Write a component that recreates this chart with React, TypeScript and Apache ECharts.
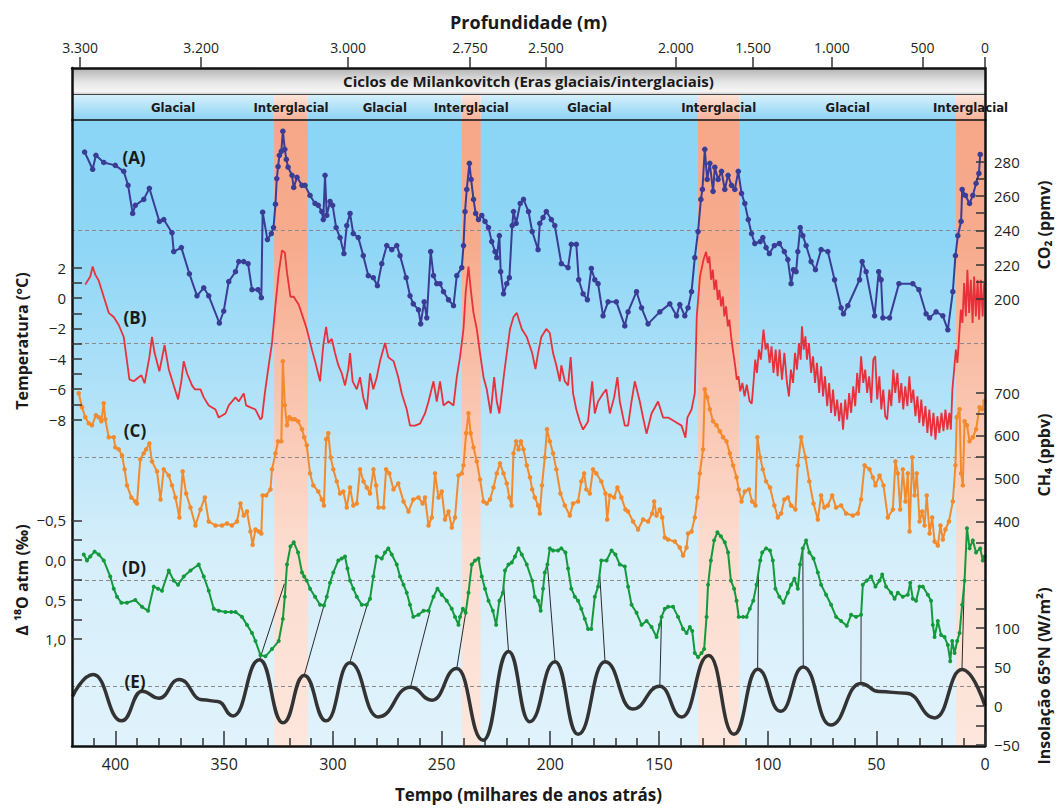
import { useEffect, useRef } from "react";
import * as echarts from "echarts";

const FONT = '"Open Sans", "Noto Sans", sans-serif';
const NARROW = '"Liberation Sans Narrow", "DejaVu Sans Condensed", "Roboto Condensed", "Open Sans", sans-serif';

// x: thousands of years before present
const timeTicks = [0, 50, 100, 150, 200, 250, 300, 350, 400];
const timeMinorTicks = [10, 20, 30, 40, 60, 70, 80, 90, 110, 120, 130, 140, 160, 170, 180, 190, 210, 220, 230, 240, 260, 270, 280, 290, 310, 320, 330, 340, 360, 370, 380, 390, 410];
const depthLabels = ["3.300", "3.200", "3.000", "2.750", "2.500", "2.000", "1.500", "1.000", "500", "0"];
const depthAges = [416.3, 360.6, 293.0, 236.9, 202.0, 142.2, 106.7, 70.4, 28.7, 0];
const interglacials = [[327, 311.5], [240.7, 232], [132, 113], [13.3, 0]];
const glacials = [[420, 327], [311.5, 240.7], [232, 132], [113, 13.3]];

// (A) CO2 ppmv
const co2 = [
  [414.2, 285.8], [410.5, 275.7], [409.0, 283.9], [405.4, 279.7], [400.1, 278.0], [396.2, 274.5], [394.2, 266.3], [392.1, 249.9], [390.9, 254.6], [387.0, 258.1], [384.4, 264.6], [379.8, 245.2], [377.8, 246.3], [374.0, 238.6], [373.2, 227.6], [369.7, 229.9], [366.0, 214.6], [362.5, 201.7], [359.4, 206.4], [357.1, 201.7], [352.2, 185.8], [350.2, 192.8], [347.9, 210.0], [344.8, 215.8], [343.3, 221.7], [341.0, 221.7], [339.0, 220.5], [337.2, 205.3], [334.4, 205.3], [332.9, 200.6], [332.3, 250.6], [330.1, 234.6], [328.3, 238.1], [327.3, 241.6], [326.4, 255.3], [325.8, 270.3], [325.2, 277.3], [324.6, 283.9], [323.7, 286.2], [323.0, 298.0], [322.1, 287.4], [321.4, 281.5], [320.6, 276.9], [318.8, 272.2], [318.0, 265.1], [316.5, 271.0], [314.2, 266.3],
  [312.8, 266.3], [310.5, 260.4], [308.2, 255.7], [306.7, 254.6], [305.1, 251.0], [304.4, 246.3], [303.6, 272.2], [302.8, 248.7], [301.3, 256.9], [300.1, 254.6], [298.5, 241.6], [296.7, 235.8], [294.9, 226.4], [293.6, 242.8], [292.1, 249.9], [290.6, 238.1], [288.3, 235.8], [286.0, 225.2], [283.7, 213.5], [281.4, 212.3], [279.5, 207.6], [277.5, 220.5], [275.2, 231.1], [272.9, 228.7], [270.6, 231.1], [269.1, 225.2], [266.3, 212.3], [264.5, 201.7], [263.0, 197.0], [260.6, 193.5], [259.6, 185.3], [258.0, 198.2], [256.8, 188.8], [255.0, 227.6], [253.7, 213.5], [252.2, 208.8], [250.7, 208.8], [249.1, 204.1], [246.8, 199.4], [244.5, 195.9], [243.0, 213.5], [240.7, 218.2], [239.9, 231.1], [239.2, 251.0], [238.4, 263.9], [237.2, 279.2], [236.4, 269.8], [235.3, 258.1], [234.3, 249.9], [233.0, 246.3], [231.5, 248.7], [230.0, 245.2], [228.4, 241.6], [226.9, 233.4], [225.4, 227.6], [224.6, 224.0], [223.4, 236.9], [222.8, 215.8], [221.5, 202.9], [220.0, 208.8], [218.8, 212.3], [217.5, 242.8], [216.9, 251.0], [215.7, 244.0], [213.8, 255.7], [212.3, 258.1], [210.0, 251.0], [208.3, 239.3],
  [205.6, 228.7], [204.8, 244.0], [203.3, 247.5], [201.8, 251.0], [199.5, 246.3], [197.9, 242.8], [194.9, 220.5], [191.8, 218.2], [190.3, 231.8], [188.0, 231.8], [186.9, 211.1], [184.9, 202.9], [182.9, 199.4], [181.1, 217.7], [179.5, 211.1], [178.0, 208.8], [175.7, 190.0], [173.4, 198.2], [169.6, 198.2], [165.7, 184.1], [164.2, 192.3], [160.3, 204.1], [158.0, 194.7], [155.0, 185.3], [149.6, 192.3], [145.0, 197.0], [141.9, 190.0], [140.4, 196.6], [138.1, 190.0], [136.6, 194.7], [135.0, 204.1], [133.5, 224.0], [132.0, 239.3], [130.7, 258.1], [130.0, 263.9], [128.9, 287.4], [127.8, 269.8], [126.6, 279.2], [125.1, 262.8], [124.3, 276.9], [122.8, 269.8], [121.2, 274.5], [119.7, 263.9], [118.2, 272.2], [116.6, 266.3], [115.1, 263.9], [113.5, 274.5], [112.0, 261.6], [110.5, 255.7], [108.9, 246.3], [107.4, 238.1], [105.9, 232.3], [103.4, 233.4],
  [102.2, 235.8], [100.7, 229.9], [99.2, 226.4], [96.9, 231.1], [94.6, 232.3], [92.3, 227.6], [90.7, 222.9], [89.2, 208.8], [88.1, 217.0], [86.9, 215.8], [86.1, 227.6], [85.0, 241.6], [83.8, 236.9], [82.3, 231.1], [80.0, 221.7], [78.0, 217.0], [75.4, 228.7], [72.3, 227.6], [69.2, 211.1], [66.2, 194.7], [65.1, 191.2], [63.1, 195.9], [57.7, 211.1], [56.5, 221.7], [54.7, 215.8], [50.8, 190.0], [48.9, 215.8], [47.8, 211.1], [47.0, 188.8], [43.9, 188.8], [39.6, 208.8], [33.2, 208.8], [30.4, 205.3], [27.1, 191.2], [25.5, 188.8], [22.5, 192.3], [19.4, 190.0], [17.1, 181.8], [14.8, 204.1], [13.6, 225.2], [12.5, 236.9], [11.0, 245.2], [10.5, 263.9], [9.0, 260.4], [7.1, 255.7], [5.6, 260.4], [4.1, 267.5], [2.8, 273.3], [2.2, 284.4],
];

// (B) Temperature °C
const temperature = [
  [413.9, 0.89], [411.6, 1.42], [410.5, 2.08], [409.3, 1.55], [407.7, 1.15], [405.4, 0.09], [403.1, -0.97], [400.8, -1.24], [398.5, -1.77], [396.2, -2.56], [394.7, -4.15], [393.6, -5.35], [391.6, -5.48], [389.3, -5.21], [388.1, -5.08], [386.6, -5.61], [384.4, -3.89], [383.2, -2.56], [382.0, -3.62], [379.8, -4.82], [377.4, -3.09], [375.5, -4.68], [373.2, -5.75], [371.2, -6.67], [369.7, -5.48], [368.6, -4.15], [367.1, -4.95], [364.8, -5.75], [363.5, -6.01], [360.9, -6.01], [359.4, -6.54], [357.1, -7.07], [354.0, -7.34], [352.5, -7.87], [349.4, -7.6], [347.9, -7.07], [344.8, -6.54], [343.3, -6.81], [341.0, -6.28], [339.9, -7.07], [337.9, -7.2], [335.6, -7.34], [333.3, -8.0], [332.6, -7.87], [331.3, -6.28], [329.5, -4.42], [328.0, -2.96], [326.4, -0.44], [324.9, 1.68], [323.4, 3.14], [322.1, 3.01], [321.1, 1.68], [319.5, 0.09], [318.0, 0.09], [315.7, -0.44], [313.2, -1.5],
  [312.0, -2.03], [309.7, -3.36], [308.2, -4.15], [305.9, -5.48], [304.4, -3.09], [303.1, -1.9], [302.1, -2.96], [300.5, -2.69], [299.0, -3.62], [297.5, -4.42], [295.9, -4.95], [294.4, -5.75], [292.9, -4.68], [292.1, -3.62], [290.9, -5.48], [289.0, -6.01], [287.5, -5.21], [286.0, -6.54], [284.4, -7.34], [282.9, -4.95], [281.4, -6.01], [279.8, -5.21], [278.3, -4.15], [276.0, -2.96], [274.5, -3.89], [272.1, -4.15], [269.9, -5.21], [268.3, -6.28], [266.0, -7.34], [264.5, -8.4], [262.2, -8.4], [259.9, -8.27], [257.6, -7.6], [256.0, -6.81], [253.7, -5.48], [252.2, -6.81], [250.7, -5.48], [249.1, -7.07], [246.8, -6.81], [244.5, -7.07], [243.0, -5.21], [241.5, -3.89], [239.9, -2.03], [238.9, 0.36], [237.6, 2.08], [236.6, 0.62], [235.3, -0.97], [233.8, -2.03], [232.3, -3.62], [230.7, -5.21], [229.2, -6.01], [227.4, -7.6], [225.8, -5.21], [224.6, -6.81], [223.4, -7.6], [222.3, -6.28], [221.2, -4.95], [220.0, -3.62], [218.5, -2.03], [216.9, -1.24], [215.4, -0.97], [213.1, -2.03], [210.8, -2.56], [208.3, -3.62],
  [206.8, -4.68], [205.6, -3.62], [204.1, -2.56], [201.8, -2.03], [200.2, -2.3], [198.7, -3.62], [197.2, -4.42], [195.6, -5.48], [194.9, -4.42], [193.3, -5.48], [191.8, -5.75], [190.6, -3.89], [189.5, -6.28], [188.0, -7.34], [186.4, -8.13], [184.9, -8.66], [182.6, -8.13], [180.7, -5.48], [179.5, -7.6], [178.0, -6.81], [175.7, -6.28], [174.2, -6.01], [172.6, -7.6], [170.6, -6.54], [169.1, -5.21], [168.0, -6.81], [165.7, -8.4], [164.2, -8.4], [162.6, -6.81], [161.1, -5.48], [158.8, -6.81], [157.3, -7.87], [155.7, -8.93], [153.4, -7.6], [150.4, -6.81], [148.1, -7.87], [145.8, -7.87], [142.7, -8.13], [139.6, -8.4], [137.8, -9.19], [136.9, -7.87], [135.0, -7.34], [133.5, -6.28],
  [132.6, -1.2], [131.1, 1.43], [129.5, 2.53], [128.3, 3.05], [127.5, 2.31], [126.8, 2.75], [126.0, 1.21], [125.2, 1.87], [124.5, 0.55], [123.7, 1.21], [122.9, -0.11], [122.2, 0.55], [121.4, -0.54], [120.6, 0.11], [119.9, -1.2], [119.1, -0.54], [118.3, -1.86], [117.6, -1.42], [116.8, -2.52], [116.0, -3.39], [114.9, -4.49], [114.2, -5.37],
  [113.4, -5.15], [112.6, -6.14], [111.6, -5.59], [110.6, -6.47], [109.6, -5.7], [108.3, -6.79], [107.3, -6.95], [106.5, -5.59], [105.7, -4.05], [104.9, -4.93], [104.0, -3.39], [103.1, -4.05], [101.9, -2.08], [100.9, -3.39], [100.0, -2.96], [99.1, -4.27], [98.2, -3.18], [97.3, -4.93], [96.3, -3.39], [95.4, -5.15], [94.5, -3.39], [93.4, -5.37], [92.3, -3.61], [91.1, -5.59], [90.2, -6.47], [89.3, -4.71], [88.3, -5.59], [87.4, -3.61], [86.5, -4.71], [85.6, -2.96], [84.8, -4.05], [84.2, -1.86], [83.4, -3.39], [82.6, -2.52], [81.9, -4.05], [81.0, -2.96], [80.0, -4.93], [79.1, -3.83], [78.2, -5.59], [77.3, -4.27], [76.3, -6.25], [75.4, -4.49], [74.5, -6.47], [73.6, -5.15], [72.6, -7.12], [71.7, -5.59], [70.8, -7.56], [69.9, -6.03], [69.0, -7.78], [68.0, -6.68], [67.1, -8.11], [66.2, -6.9], [65.3, -8.66], [64.3, -6.68], [63.4, -8.0], [62.5, -6.25], [61.6, -7.56], [60.6, -5.81], [59.7, -7.12], [58.8, -4.93], [57.9, -6.25], [57.0, -3.83], [56.0, -5.59], [55.1, -4.71], [54.2, -6.25], [53.3, -5.15], [52.3, -6.9], [51.4, -4.05], [50.5, -3.83], [49.6, -6.68], [48.6, -5.15], [47.7, -7.34], [46.8, -6.03], [45.9, -7.78], [45.0, -8.0], [44.0, -6.03], [43.1, -7.12], [42.2, -4.71], [41.3, -6.25], [40.3, -4.93], [39.4, -6.9], [38.5, -5.59], [37.6, -7.34], [36.7, -5.81], [35.7, -7.12], [34.8, -5.15], [33.9, -6.9], [33.0, -6.03], [32.0, -7.78], [31.1, -6.47], [30.2, -8.22], [29.3, -6.68], [28.4, -8.44], [27.4, -7.12], [26.5, -8.88], [25.6, -7.34], [24.7, -9.1], [23.7, -7.56], [22.8, -9.32], [21.9, -7.78], [21.0, -8.88], [20.0, -7.56], [19.1, -8.77], [18.2, -7.34], [17.3, -8.66], [16.4, -7.56], [15.7, -8.66], [15.0, -6.03], [14.2, -4.71], [13.4, -3.39], [12.7, -4.27], [11.9, -2.52], [11.1, -0.76], [10.4, -1.64], [9.6, 0.99], [8.8, -1.2], [8.1, 1.87], [7.3, -0.98], [6.5, 1.21], [5.7, -1.64], [5.0, 1.43], [4.2, -1.2], [3.4, 1.21], [2.7, -1.42], [1.9, 1.21], [1.1, -1.2], [0.4, 0.99],
];

// (C) CH4 ppbv
const methane = [
  [416.9, 698.5], [415.4, 665.8], [413.9, 642.4], [412.3, 628.4], [410.8, 623.8], [409.0, 647.1], [407.7, 642.4], [406.5, 633.1], [405.4, 675.1], [404.7, 637.8], [403.1, 595.8], [400.8, 595.8], [400.1, 572.4], [398.5, 567.7], [397.0, 553.7], [395.8, 521.1], [394.7, 483.7], [392.7, 455.7], [390.9, 446.4], [390.1, 441.7], [388.6, 544.4], [387.0, 558.4], [385.9, 567.7], [384.4, 581.7], [383.2, 539.7], [380.9, 516.4], [379.3, 451.0], [377.8, 521.1], [375.5, 507.0], [374.0, 483.7], [372.4, 455.7], [370.6, 409.0], [369.1, 516.4], [367.5, 465.0], [365.5, 432.4], [363.2, 390.3], [360.9, 427.7], [358.9, 455.7], [357.1, 399.7], [354.0, 390.3], [351.0, 390.3], [348.7, 395.0], [346.4, 390.3], [344.1, 399.7], [342.5, 441.7], [341.0, 413.7], [339.5, 423.0], [337.9, 376.3], [336.9, 345.5], [335.6, 381.0], [334.1, 376.3], [332.9, 371.7], [332.3, 460.4], [330.7, 460.4], [328.7, 474.4], [328.0, 521.1], [326.4, 558.4], [325.2, 586.4], [323.7, 586.4], [323.0, 773.0], [322.1, 670.4], [321.1, 623.8], [320.0, 642.4], [318.8, 637.8], [317.5, 637.8], [316.0, 633.1], [314.2, 614.4], [313.2, 595.8],
  [312.0, 577.1], [310.5, 511.7], [309.0, 483.7], [306.7, 469.7], [305.1, 451.0], [304.1, 437.0], [303.1, 591.1], [302.1, 605.1], [301.0, 549.1], [299.8, 521.1], [298.2, 493.0], [296.7, 465.0], [295.2, 469.7], [293.6, 432.4], [292.1, 479.0], [290.6, 437.0], [289.0, 441.7], [287.5, 521.1], [285.9, 493.0], [284.4, 479.0], [282.9, 465.0], [281.3, 521.1], [280.1, 483.7], [279.0, 432.4], [276.7, 432.4], [275.5, 521.1], [274.0, 511.7], [272.1, 474.4], [269.9, 488.4], [267.5, 446.4], [265.2, 423.0], [263.0, 451.0], [260.6, 455.7], [258.7, 441.7], [257.6, 455.7], [256.0, 390.3], [254.5, 409.0], [253.0, 511.7], [251.4, 455.7], [249.9, 469.7], [248.4, 404.3], [246.8, 423.0], [245.3, 385.7], [243.8, 409.0], [242.2, 507.0], [240.7, 511.7], [239.9, 530.4], [238.7, 605.1], [237.6, 651.8], [236.6, 605.1], [235.3, 572.4], [233.8, 539.7], [232.3, 497.7], [230.7, 446.4], [229.2, 441.7], [227.7, 451.0], [226.1, 479.0], [224.6, 511.7], [223.1, 535.1], [221.5, 511.7], [220.0, 488.4], [218.8, 455.7], [217.8, 437.0], [216.9, 558.4], [215.7, 586.4], [214.6, 567.7], [213.5, 586.4], [212.3, 567.7], [210.8, 530.4], [209.3, 502.4], [208.3, 474.4],
  [207.1, 455.7], [205.6, 437.0], [204.8, 418.3], [203.8, 483.7], [202.5, 549.1], [201.5, 614.4], [200.2, 586.4], [198.7, 558.4], [197.2, 521.1], [195.3, 465.0], [193.3, 437.0], [191.0, 413.7], [189.5, 441.7], [187.2, 446.4], [185.7, 493.0], [184.4, 511.7], [183.4, 474.4], [181.8, 465.0], [180.3, 521.1], [178.8, 511.7], [176.5, 493.0], [174.6, 465.0], [173.8, 404.3], [172.6, 460.4], [170.6, 455.7], [169.1, 479.0], [167.3, 455.7], [165.4, 427.7], [164.2, 423.0], [161.9, 399.7], [159.6, 381.0], [157.3, 404.3], [155.0, 399.7], [153.1, 418.3], [152.2, 446.4], [151.1, 413.7], [149.6, 427.7], [148.5, 409.0], [147.3, 362.3], [145.8, 357.6], [142.7, 353.0], [140.4, 339.0], [138.9, 320.3], [137.3, 339.0], [136.6, 371.7], [135.0, 376.3], [133.5, 409.0], [132.3, 455.7], [131.2, 511.7], [129.7, 567.7], [128.9, 707.8], [127.8, 689.1], [126.6, 661.1], [125.1, 633.1], [123.5, 623.8], [122.0, 609.8], [120.5, 595.8], [118.9, 586.4], [117.4, 558.4], [115.9, 530.4], [114.3, 502.4], [113.3, 474.4], [112.0, 446.4], [110.5, 469.7], [108.6, 474.4], [107.1, 446.4], [105.6, 437.0], [104.7, 595.8], [103.4, 549.1],
  [102.2, 521.1], [100.7, 493.0], [98.9, 479.0], [96.9, 437.0], [95.3, 409.0], [93.8, 418.3], [92.3, 451.0], [90.7, 455.7], [89.2, 437.0], [87.2, 427.7], [86.1, 530.4], [84.6, 595.8], [82.6, 549.1], [80.8, 493.0], [78.9, 441.7], [76.9, 404.3], [75.4, 460.4], [73.9, 432.4], [72.3, 437.0], [70.3, 460.4], [68.5, 432.4], [66.2, 437.0], [63.9, 418.3], [60.8, 413.7], [58.5, 418.3], [57.0, 451.0], [55.4, 530.4], [53.1, 521.1], [51.6, 502.4], [50.4, 483.7], [48.5, 507.0], [46.7, 483.7], [44.7, 409.0], [42.4, 427.7], [41.2, 539.7], [40.1, 511.7], [39.0, 427.7], [37.8, 521.1], [36.6, 446.4], [35.5, 511.7], [34.7, 376.3], [33.5, 549.1], [32.4, 460.4], [31.4, 511.7], [30.1, 399.7], [28.9, 423.0], [27.8, 390.3], [26.8, 460.4], [25.5, 371.7], [24.3, 409.0], [23.2, 353.0], [21.7, 343.7], [20.5, 390.3], [19.4, 357.6], [18.2, 381.0], [16.6, 399.7], [14.8, 446.4], [13.6, 530.4], [13.0, 642.4], [11.7, 661.1], [11.0, 511.7], [10.2, 483.7], [9.4, 633.1], [8.3, 623.8], [7.1, 586.4], [5.6, 595.8], [4.1, 614.4], [2.5, 665.8], [1.3, 661.1], [0.3, 679.8],
];

// (D) delta 18O atm (per mil)
const d18o = [
  [414.6, -0.07], [413.1, 0.006], [411.6, -0.045], [409.6, -0.106], [407.7, -0.07], [405.4, 0.006], [402.4, 0.209], [400.8, 0.362], [399.3, 0.463], [397.3, 0.54], [394.7, 0.54], [390.9, 0.504], [387.8, 0.591], [385.0, 0.641], [382.4, 0.336], [380.4, 0.362], [378.6, 0.387], [375.5, 0.133], [373.2, 0.26], [371.2, 0.311], [368.6, 0.209], [365.5, 0.133], [361.7, 0.057], [359.4, 0.209], [357.1, 0.387], [354.8, 0.616], [352.5, 0.641], [349.4, 0.657], [346.7, 0.657], [344.8, 0.657], [341.8, 0.718], [339.5, 0.819], [337.2, 0.921], [335.6, 1.023], [333.3, 1.201], [331.0, 1.216], [328.0, 1.124], [324.9, 1.023], [323.0, 0.743], [322.1, 0.463], [321.1, 0.057], [319.5, -0.172], [318.0, -0.223], [316.0, -0.096], [314.2, 0.158], [313.2, 0.209],
  [312.0, 0.26], [310.5, 0.362], [308.2, 0.463], [305.9, 0.565], [304.1, 0.575], [302.8, 0.463], [301.3, 0.286], [299.8, 0.158], [297.5, 0.006], [295.9, -0.019], [294.4, -0.045], [293.3, 0.108], [292.1, 0.26], [290.6, 0.362], [289.0, 0.463], [286.7, 0.565], [284.4, 0.565], [282.9, 0.489], [281.4, 0.209], [279.8, -0.045], [277.5, -0.019], [276.0, -0.096], [274.5, -0.147], [272.9, -0.07], [270.6, 0.057], [269.1, 0.209], [267.5, 0.311], [266.0, 0.413], [264.5, 0.565], [263.0, 0.718], [260.6, 0.692], [258.3, 0.641], [256.0, 0.641], [253.7, 0.463], [251.9, 0.362], [249.9, 0.438], [247.6, 0.514], [245.3, 0.616], [243.8, 0.718], [242.2, 0.819], [241.5, 0.718], [240.2, 0.616], [238.9, 0.667], [237.6, 0.413], [236.1, 0.057], [234.6, 0.006], [233.0, -0.019], [231.5, 0.209], [230.0, 0.362], [228.4, 0.514], [226.4, 0.641], [224.9, 0.819], [223.4, 0.514], [221.8, 0.413], [220.8, 0.133], [219.2, 0.057], [217.7, 0.032], [216.2, -0.045], [214.6, -0.147], [213.1, -0.07], [210.8, 0.057], [208.3, 0.26],
  [207.1, 0.463], [205.6, 0.514], [204.4, 0.641], [203.3, 0.362], [202.5, 0.158], [201.3, 0.057], [200.2, -0.147], [198.7, -0.121], [196.4, -0.121], [194.9, -0.147], [193.0, -0.096], [191.8, 0.108], [190.3, 0.362], [188.7, 0.463], [187.2, 0.514], [185.7, 0.616], [184.1, 0.743], [182.6, 0.87], [181.1, 0.87], [179.5, 0.463], [178.0, 0.336], [176.5, 0.006], [174.1, 0.006], [171.8, -0.121], [170.0, -0.07], [168.0, 0.057], [165.7, 0.082], [164.2, 0.336], [162.6, 0.565], [160.3, 0.667], [158.0, 0.819], [155.7, 0.769], [153.4, 0.845], [151.1, 0.972], [149.6, 0.819], [148.8, 0.718], [147.3, 0.616], [145.8, 0.591], [143.5, 0.591], [141.2, 0.718], [138.9, 0.87], [137.3, 0.921], [135.8, 0.845], [134.7, 0.896], [133.5, 1.175], [132.0, 1.226], [130.4, 1.175], [129.2, 1.124], [128.1, 0.718], [127.4, 0.311], [126.1, 0.006], [124.6, -0.248], [123.1, -0.35], [121.5, -0.299], [119.7, -0.223], [118.2, -0.096], [116.9, 0.26], [115.4, 0.362], [114.3, 0.514], [113.3, 0.718], [111.3, 0.718], [109.7, 0.718], [108.2, 0.616], [106.6, 0.514], [105.1, 0.311], [103.4, 0.006],
  [102.5, -0.096], [100.7, -0.147], [98.9, -0.121], [97.6, 0.006], [96.4, 0.362], [94.6, 0.463], [92.7, 0.54], [90.7, 0.413], [89.2, 0.311], [87.7, 0.235], [86.1, 0.362], [85.1, 0.057], [83.8, -0.147], [82.3, -0.248], [80.8, -0.096], [78.9, -0.019], [76.9, 0.158], [75.4, 0.311], [73.1, 0.438], [70.8, 0.565], [68.5, 0.718], [66.2, 0.769], [63.6, 0.83], [61.6, 0.692], [59.3, 0.718], [57.0, 0.692], [56.2, 0.311], [54.4, 0.26], [52.4, 0.209], [50.4, 0.336], [48.5, 0.26], [47.3, 0.184], [45.5, 0.336], [43.2, 0.413], [41.6, 0.489], [40.1, 0.413], [37.8, 0.463], [35.5, 0.438], [34.4, 0.286], [33.2, 0.489], [31.7, 0.514], [30.1, 0.336], [28.6, 0.336], [26.3, 0.438], [24.8, 0.514], [24.0, 0.819], [23.2, 0.972], [21.7, 0.769], [20.2, 0.947], [18.6, 0.972], [17.1, 1.074], [16.0, 1.277], [15.1, 1.023], [14.0, 1.175], [12.8, 1.023], [11.7, 0.921], [10.5, 0.565], [9.4, 0.26], [8.3, -0.401], [7.1, -0.147], [5.6, -0.248], [4.1, -0.096], [2.2, -0.147], [1.0, 0.006], [0.2, -0.045],
];

// (E) Insolation 65°N, W/m²
const insolation = [
  [419.7, 12.7], [410.3, 40.5], [397.1, -19.0], [387.8, 19.0], [380.0, 10.1], [370.7, 34.2], [360.0, 8.0], [353.0, 6.0], [345.9, -12.7], [333.7, 59.5], [322.9, -21.5], [313.2, 39.2], [303.1, -19.0], [292.2, 55.7], [279.2, -13.9], [264.3, 24.1], [254.4, 7.6], [243.0, 48.1], [230.9, -43.9], [219.2, 70.0], [209.5, -20.0], [197.8, 57.0], [187.2, -36.3], [174.8, 57.0], [162.1, -3.8], [149.6, 25.3], [139.5, -13.9], [127.1, 64.9], [115.5, -36.3], [104.6, 47.2], [94.0, -6.7], [83.6, 50.3], [71.1, -24.4], [57.1, 29.1], [48.8, 18.6], [36.3, 16.5], [23.0, -15.2], [10.6, 46.8], [0, 0.4],
];

// tie lines: [age on E, insolation, age on D, delta18O]
const tieLines = [
  [333.7, 59.5, 322.3, 0.3], [313.2, 39.2, 304.1, 0.575], [292.2, 55.7, 283.8, 0.53], [264.3, 24.1, 255.3, 0.64], [243.0, 48.1, 238.9, 0.667], [219.2, 70.0, 221.5, 0.3], [197.8, 57.0, 201.3, 0.057], [174.8, 57.0, 177.2, 0.2], [149.6, 25.3, 148.8, 0.718], [104.6, 47.2, 104.2, 0.15], [83.6, 50.3, 83.8, -0.147], [57.1, 29.1, 57.0, 0.692], [10.6, 46.8, 9.6, 0.35],
];

const co2Ticks = [200, 210, 220, 230, 240, 250, 260, 270, 280];
const co2Labels = [200, 220, 240, 260, 280];
const tempTicks = [-8, -7, -6, -5, -4, -3, -2, -1, 0, 1, 2];
const tempLabels = [-8, -6, -4, -2, 0, 2];
const ch4Ticks = [350, 400, 450, 500, 550, 600, 650, 700];
const ch4Labels = [400, 500, 600, 700];
const d18oTicks = [-0.5, -0.25, 0, 0.25, 0.5, 0.75, 1.0];
const d18oLabels = [-0.5, 0, 0.5, 1.0];
const insolTicks = [-50, -25, 0, 25, 50, 75, 100, 125];
const insolLabels = [-50, 0, 50, 100];
const baselines = { co2: 240, temp: -3, ch4: 550, d18o: 0.25, insol: 25 };

const grad = (stops: [number, string][]) =>
  new echarts.graphic.LinearGradient(0, 0, 0, 1, stops.map(([offset, color]) => ({ offset, color })));

const minus = (s: string) => s.replace("-", "\u2212");

export default function App() {
  const ref = useRef<HTMLDivElement>(null);
  useEffect(() => {
    if (!ref.current) return;
    const chart = echarts.init(ref.current, undefined, { renderer: "svg" });
    const tickLabel = { fontFamily: FONT, fontSize: 15, color: "#231f20" };
    const frame = { color: "#111", width: 2.5 };
    const hiddenAxis = { axisLine: { show: false }, axisTick: { show: false }, axisLabel: { show: false }, splitLine: { show: false } };

    const yRight = (min: number, max: number, ticks: number[], labels: number[], showLine: boolean) => ({
      type: "value", gridIndex: 0, position: "right", min, max, z: 5,
      axisLine: { show: showLine, onZero: false, lineStyle: frame },
      axisTick: { show: true, inside: true, length: 9, customValues: ticks, lineStyle: { color: "#333", width: 1.5 } },
      axisLabel: { show: true, customValues: labels, margin: 9, ...tickLabel, formatter: (v: number) => minus(String(v)) },
      splitLine: { show: false },
    });
    const yLeft = (min: number, max: number, ticks: number[], labels: number[], showLine: boolean, inverse: boolean, fmt: (v: number) => string) => ({
      type: "value", gridIndex: 0, position: "left", min, max, inverse, z: 5,
      axisLine: { show: showLine, onZero: false, lineStyle: frame },
      axisTick: { show: true, inside: true, length: 10, customValues: ticks, lineStyle: { color: "#333", width: 1.5 } },
      axisLabel: { show: true, customValues: labels, margin: 6, ...tickLabel, formatter: (v: number) => fmt(v) },
      splitLine: { show: false },
    });

    const dashed = (v: number) => ({
      silent: true, symbol: "none", z: 2,
      lineStyle: { color: "#8a8a8a", type: [4, 3], width: 1.2 },
      label: { show: false }, data: [{ yAxis: v }],
    });

    const headerLabel = (text: string, size: number, family: string) => ({
      show: true, position: "inside", formatter: text, color: "#1a1a1a",
      fontFamily: family, fontWeight: "bold", fontSize: size,
    });

    const blueHead = grad([[0, "#d8f1fc"], [1, "#8cd3f4"]]);
    const salmonHead = grad([[0, "#fde6db"], [1, "#f7b196"]]);
    const blueMain = grad([[0, "#8bd5f6"], [0.2, "#8fd6f6"], [0.68, "#d4eefa"], [1, "#e1f3fc"]]);
    const salmonMain = grad([[0, "#f6a788"], [0.2, "#f7ab8d"], [0.68, "#fcdccf"], [1, "#fde6dc"]]);
    const grayHead = grad([[0, "#b3b3b3"], [0.55, "#e6e6e6"], [0.9, "#f5f5f5"], [1, "#d0d0d0"]]);

    const option: any = {
      animation: false,
      backgroundColor: "#ffffff",
      grid: [
        { left: 72, right: 73, top: 120, bottom: 61 },
        { left: 72, right: 73, top: 68, height: 52 },
      ],
      xAxis: [
        {
          type: "value", gridIndex: 0, position: "bottom", min: 0, max: 420, inverse: true, z: 5,
          axisLine: { show: true, onZero: false, lineStyle: frame },
          axisTick: { show: true, inside: true, length: 15, customValues: timeTicks, lineStyle: { color: "#333", width: 1.5 } },
          axisLabel: { show: true, customValues: timeTicks, margin: 10, ...tickLabel, fontSize: 16 },
          splitLine: { show: false },
          name: "Tempo (milhares de anos atrás)", nameLocation: "middle", nameGap: 40,
          nameTextStyle: { fontFamily: FONT, fontWeight: "bold", fontSize: 17, color: "#1a1a1a" },
        },
        {
          type: "value", gridIndex: 0, position: "bottom", min: 0, max: 420, inverse: true, z: 5,
          axisLine: { show: false, onZero: false },
          axisTick: { show: true, inside: true, length: 8, customValues: timeMinorTicks, lineStyle: { color: "#333", width: 1.5 } },
          axisLabel: { show: false }, splitLine: { show: false },
        },
        {
          type: "value", gridIndex: 1, position: "top", min: 0, max: 420, inverse: true, z: 5,
          axisLine: { show: true, onZero: false, lineStyle: frame },
          axisTick: { show: true, inside: false, length: 11, customValues: depthAges, lineStyle: { color: "#333", width: 1.5 } },
          axisLabel: {
            show: true, customValues: depthAges, margin: 14, ...tickLabel, fontSize: 14,
            formatter: (v: number) => { const i = depthAges.indexOf(v); return i >= 0 ? depthLabels[i] : ""; },
          },
          splitLine: { show: false },
          name: "Profundidade (m)", nameLocation: "middle", nameGap: 37,
          nameTextStyle: { fontFamily: FONT, fontWeight: "bold", fontSize: 18, color: "#1a1a1a" },
        },
        {
          type: "value", gridIndex: 1, position: "bottom", min: 0, max: 420, inverse: true, z: 5,
          ...hiddenAxis, axisLine: { show: true, onZero: false, lineStyle: { color: "#111", width: 1.5 } },
        },
      ],
      yAxis: [
        yRight(-61.6, 304.53, co2Ticks, co2Labels, true),
        yLeft(-29.51, 11.737, tempTicks, tempLabels, true, false, (v) => minus(String(v))),
        yRight(-123.3, 1334.9, ch4Ticks, ch4Labels, false),
        yLeft(-5.555, 2.348, d18oTicks, d18oLabels, false, true, (v) => minus(v.toFixed(1).replace(".", ","))),
        yRight(-51.3, 752.6, insolTicks, insolLabels, false),
        { type: "value", gridIndex: 1, position: "left", min: 0, max: 2, z: 5, ...hiddenAxis, axisLine: { show: true, onZero: false, lineStyle: frame } },
        { type: "value", gridIndex: 1, position: "right", min: 0, max: 2, z: 5, ...hiddenAxis, axisLine: { show: true, onZero: false, lineStyle: frame } },
      ],
      series: [
        {
          type: "line", xAxisIndex: 3, yAxisIndex: 5, data: [[0, -5]], symbol: "none", lineStyle: { width: 0 }, silent: true, z: 0,
          markArea: {
            silent: true, z: 0,
            data: [
              [{ xAxis: 420, yAxis: 1, itemStyle: { color: grayHead }, label: headerLabel("Ciclos de Milankovitch (Eras glaciais/interglaciais)", 15, FONT) }, { xAxis: 0, yAxis: 2 }],
              ...glacials.map(([a, b]) => [{ xAxis: a, yAxis: 0, itemStyle: { color: blueHead }, label: headerLabel("Glacial", 13, NARROW) }, { xAxis: b, yAxis: 1 }]),
              ...interglacials.map(([a, b]) => [{ xAxis: a, yAxis: 0, itemStyle: { color: salmonHead }, label: headerLabel("Interglacial", 13, NARROW) }, { xAxis: b, yAxis: 1 }]),
            ],
          },
          markLine: { silent: true, symbol: "none", z: 3, label: { show: false }, lineStyle: { color: "#444", type: "solid", width: 1 }, data: [{ yAxis: 1 }] },
        },
        {
          type: "line", xAxisIndex: 0, yAxisIndex: 0, data: [[0, -1000]], symbol: "none", lineStyle: { width: 0 }, silent: true, z: 0,
          markArea: {
            silent: true, z: 0,
            data: [
              [{ xAxis: 420, itemStyle: { color: blueMain } }, { xAxis: 0 }],
              ...interglacials.map(([a, b]) => [{ xAxis: a, itemStyle: { color: salmonMain } }, { xAxis: b }]),
            ],
          },
        },
        {
          name: "CO2", type: "line", xAxisIndex: 0, yAxisIndex: 0, data: co2, z: 3,
          symbol: "circle", symbolSize: 5.5, itemStyle: { color: "#3a3d96" }, lineStyle: { color: "#3a3d96", width: 2 },
          markLine: dashed(baselines.co2),
        },
        {
          name: "Temperatura", type: "line", xAxisIndex: 0, yAxisIndex: 1, data: temperature, z: 3,
          symbol: "none", lineStyle: { color: "#e8313b", width: 1.8 },
          markLine: dashed(baselines.temp),
        },
        {
          name: "CH4", type: "line", xAxisIndex: 0, yAxisIndex: 2, data: methane, z: 3,
          symbol: "circle", symbolSize: 4.5, itemStyle: { color: "#f28a2e" }, lineStyle: { color: "#f28a2e", width: 2 },
          markLine: dashed(baselines.ch4),
        },
        {
          name: "d18O", type: "line", xAxisIndex: 0, yAxisIndex: 3, data: d18o, z: 3,
          symbol: "circle", symbolSize: 4, itemStyle: { color: "#14993c" }, lineStyle: { color: "#14993c", width: 2 },
          markLine: dashed(baselines.d18o),
        },
        {
          name: "Insolação", type: "line", xAxisIndex: 0, yAxisIndex: 4, data: insolation, z: 3,
          symbol: "none", smooth: 0.5, smoothMonotone: "x", lineStyle: { color: "#333333", width: 3.5 },
          markLine: dashed(baselines.insol),
        },
      ],
    };
    chart.setOption(option);

    const E_IDX = 6;
    const D_IDX = 5;
    const ties = tieLines.map(([ke, ve, kd, vd], i) => {
      const p1 = chart.convertToPixel({ seriesIndex: E_IDX }, [ke, ve]) as number[];
      const p2 = chart.convertToPixel({ seriesIndex: D_IDX }, [kd, vd]) as number[];
      return { type: "line", id: "tie" + i, z: 2, silent: true, shape: { x1: p1[0], y1: p1[1], x2: p2[0], y2: p2[1] }, style: { stroke: "#2a2a2a", lineWidth: 1 } };
    });
    const txt = (id: string, text: string, x: number, y: number, size: number, rot = 0) => ({
      type: "text", id, x, y, rotation: rot, z: 10, silent: true,
      style: { text, fill: "#1a1a1a", fontFamily: FONT, fontWeight: "bold", fontSize: size, align: "center", verticalAlign: "middle" },
    });
    chart.setOption({
      graphic: [
        ...ties,
        txt("la", "(A)", 134, 157, 17), txt("lb", "(B)", 135, 317, 17), txt("lc", "(C)", 135, 430, 17),
        txt("ld", "(D)", 134, 567, 17), txt("le", "(E)", 135, 681, 17),
        txt("yt", "Temperatura (°C)", 22, 341, 16, Math.PI / 2),
        txt("yd", "Δ ¹⁸O atm (‰)", 22, 580, 16, Math.PI / 2),
        txt("yc", "CO₂ (ppmv)", 1044, 225, 16, Math.PI / 2),
        txt("ym", "CH₄ (ppbv)", 1044, 455, 16, Math.PI / 2),
        txt("yi", "Insolação 65°N (W/m²)", 1044, 676, 16, Math.PI / 2),
      ],
    });

    return () => chart.dispose();
  }, []);
  return <div ref={ref} style={{ position: "fixed", left: 0, top: 0, width: 1058, height: 808 }} />;
}
